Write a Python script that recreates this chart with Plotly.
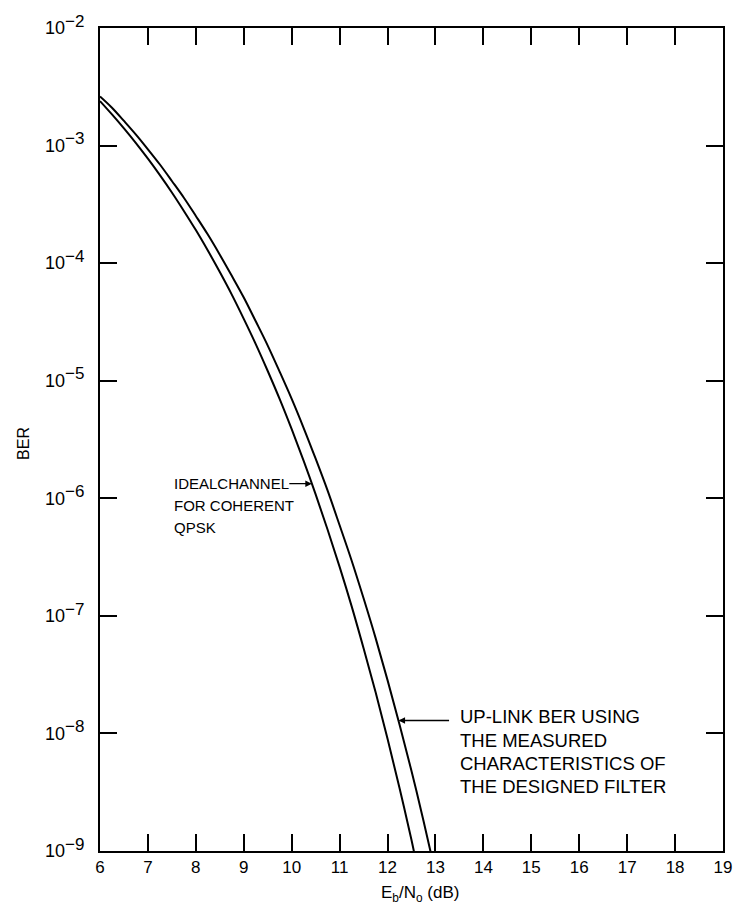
import plotly.graph_objects as go

# Eb/No (dB) sample positions and BER values
x_ideal = [6.0, 6.25, 6.5, 6.75, 7.0, 7.25, 7.5, 7.75, 8.0, 8.25, 8.5, 8.75, 9.0, 9.25,
           9.5, 9.75, 10.0, 10.25, 10.5, 10.75, 11.0, 11.25, 11.5, 11.75, 12.0, 12.25,
           12.5, 12.56]
ber_ideal = [2.39e-3, 1.84e-3, 1.40e-3, 1.05e-3, 7.73e-4, 5.6e-4, 3.99e-4, 2.78e-4,
             1.91e-4, 1.28e-4, 8.4e-5, 5.4e-5, 3.36e-5, 2.05e-5, 1.21e-5, 6.97e-6,
             3.87e-6, 2.08e-6, 1.08e-6, 5.4e-7, 2.61e-7, 1.21e-7, 5.3e-8, 2.25e-8,
             9.0e-9, 3.44e-9, 1.24e-9, 9.5e-10]

x_uplink = [6.0, 6.25, 6.5, 6.75, 7.0, 7.25, 7.5, 7.75, 8.0, 8.25, 8.5, 8.75, 9.0, 9.25,
            9.5, 9.75, 10.0, 10.25, 10.5, 10.75, 11.0, 11.25, 11.5, 11.75, 12.0, 12.25,
            12.5, 12.75, 12.92]
ber_uplink = [2.62e-3, 2.1e-3, 1.62e-3, 1.24e-3, 9.3e-4, 6.9e-4, 5.0e-4, 3.6e-4,
              2.52e-4, 1.75e-4, 1.18e-4, 7.8e-5, 5.1e-5, 3.2e-5, 1.99e-5, 1.19e-5,
              7.0e-6, 3.96e-6, 2.17e-6, 1.16e-6, 5.9e-7, 2.96e-7, 1.41e-7, 6.5e-8,
              2.84e-8, 1.19e-8, 4.8e-9, 1.81e-9, 9.0e-10]

x_ticks = list(range(6, 20))
y_exps = [-9, -8, -7, -6, -5, -4, -3, -2]

ideal_label = ["IDEALCHANNEL", "FOR COHERENT", "QPSK"]
uplink_label = ["UP-LINK BER USING", "THE MEASURED", "CHARACTERISTICS OF", "THE DESIGNED FILTER"]

FONT = "Liberation Sans, Arial, Helvetica, sans-serif"

fig = go.Figure()
fig.add_trace(go.Scatter(x=x_ideal, y=ber_ideal, mode="lines", line_shape="spline",
                         line=dict(color="black", width=2), showlegend=False))
fig.add_trace(go.Scatter(x=x_uplink, y=ber_uplink, mode="lines", line_shape="spline",
                         line=dict(color="black", width=2), showlegend=False))

L, R, T, B = 100, 17, 17, 57
W, H = 744, 908
pw, ph = W - L - R, H - T - B


def px(xp):
    return (xp - L) / pw


def py(yp):
    return (H - B - yp) / ph


ann = []
# Ideal channel label (three lines, left aligned)
for i, s in enumerate(ideal_label):
    ann.append(dict(x=px(172), y=-5.876 - 0.185 * i, xref="paper", yref="y",
                    text=s, showarrow=False, xanchor="left", yanchor="middle",
                    font=dict(family=FONT, size=15, color="black")))
ann.append(dict(x=10.42, y=-5.876, xref="x", yref="y", text="", showarrow=True,
                ax=-24, ay=0, axref="pixel", ayref="pixel",
                arrowhead=2, arrowsize=1, arrowwidth=1.3, arrowcolor="black"))
# Uplink label
for i, s in enumerate(uplink_label):
    ann.append(dict(x=px(460), y=-7.86 - 0.197 * i, xref="paper", yref="y",
                    text=s, showarrow=False, xanchor="left", yanchor="middle",
                    font=dict(family=FONT, size=18.5, color="black")))
ann.append(dict(x=12.23, y=-7.89, xref="x", yref="y", text="", showarrow=True,
                ax=52, ay=0, axref="pixel", ayref="pixel",
                arrowhead=2, arrowsize=1, arrowwidth=1.3, arrowcolor="black"))
# Axis titles
ann.append(dict(x=px(422), y=py(895), xref="paper", yref="paper",
                text="E<sub>b</sub>/N<sub>o</sub> (dB)", showarrow=False,
                xanchor="center", yanchor="middle",
                font=dict(family=FONT, size=17, color="black")))
ann.append(dict(x=px(23), y=py(438), xref="paper", yref="paper",
                text="BER", showarrow=False, textangle=-90,
                xanchor="center", yanchor="middle",
                font=dict(family=FONT, size=16, color="black")))

fig.update_layout(
    width=W, height=H,
    margin=dict(l=L, r=R, t=T, b=B, pad=0),
    paper_bgcolor="white", plot_bgcolor="white",
    font=dict(family=FONT, size=16, color="black"),
    annotations=ann,
    xaxis=dict(range=[6, 19], tickvals=x_ticks, ticktext=[str(v) for v in x_ticks],
               ticks="inside", ticklen=17, tickwidth=1.5, tickcolor="black",
               showline=True, linecolor="black", linewidth=1.8, mirror="ticks",
               showgrid=False, zeroline=False,
               tickfont=dict(family=FONT, size=17, color="black")),
    yaxis=dict(type="log", range=[-9, -2],
               tickvals=[10.0 ** e for e in y_exps],
               ticktext=["10<sup><span style='font-size:17px'>\u2212%d</span></sup>" % (-e)
                         for e in y_exps],
               ticks="inside", ticklen=17, tickwidth=1.5, tickcolor="black",
               showline=True, linecolor="black", linewidth=1.8, mirror="ticks",
               showgrid=False, zeroline=False, ticklabelstandoff=10,
               tickfont=dict(family=FONT, size=18, color="black")),
)

fig.write_html("out.html")
